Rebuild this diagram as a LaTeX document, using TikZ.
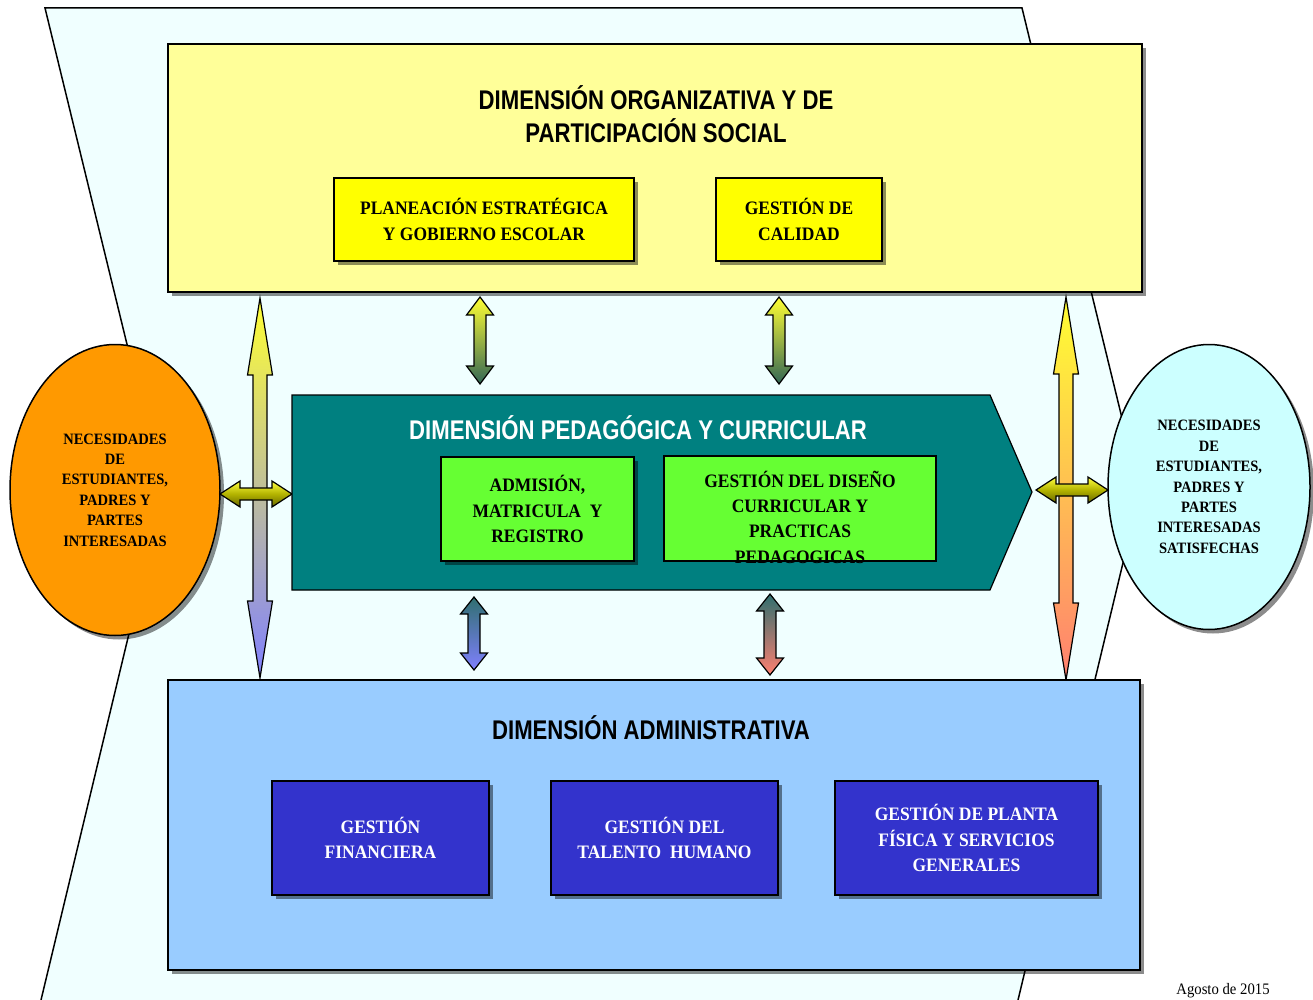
\documentclass[tikz,border=0pt]{standalone}
\usepackage{fontspec}
\setmainfont{Liberation Serif}
\newfontfamily\titlefont[FakeStretch=0.82]{Liberation Sans}
\newfontfamily\boxfont[FakeStretch=0.92]{Liberation Serif}
\usetikzlibrary{calc}
\usetikzlibrary{shadows}
\usetikzlibrary{shapes.geometric}
\definecolor{framefill}{HTML}{F0FFFF}
\definecolor{orgfill}{HTML}{FFFF99}
\definecolor{orgsub}{HTML}{FFFF00}
\definecolor{pedfill}{HTML}{008080}
\definecolor{pedsub}{HTML}{66FF33}
\definecolor{admfill}{HTML}{99CCFF}
\definecolor{admsub}{HTML}{3333CC}
\definecolor{needsin}{HTML}{FF9900}
\definecolor{needsout}{HTML}{CCFFFF}
\definecolor{arryellow}{HTML}{FFFF33}
\definecolor{arrviolet}{HTML}{8080FF}
\definecolor{arrsalmon}{HTML}{FF8070}
\definecolor{arrdark}{HTML}{336655}
\definecolor{arrteal}{HTML}{2F6F6F}
\tikzstyle{frameline}=[draw, line width=1.5pt, inner sep=0, outer sep=0]
\tikzstyle{dimension}=[frameline,
                       drop shadow={shadow xshift=4pt, shadow yshift=-4pt, fill=black, opacity=0.45}]
\tikzstyle{boxtext}=[align=center, font=\boxfont\bfseries\fontsize{19}{25.3}\selectfont]
\tikzstyle{process}=[dimension, boxtext]
\tikzstyle{needs}=[dimension, ellipse, align=center, font=\boxfont\bfseries\fontsize{15.8}{20.4}\selectfont]
\tikzstyle{dimtitle}=[align=center, inner sep=0, font=\titlefont\bfseries\fontsize{27}{33}\selectfont]
\tikzstyle{blockarrow}=[line width=1.2pt, line join=miter]
% #1 top tip, #2 bottom tip, #3 half shaft, #4 half head, #5 head length, #6 shading
\newcommand{\vblockarrow}[6]{%
  \draw[blockarrow, #6] (#1) -- ($(#1)+(#4,#5)$) -- ($(#1)+(#3,#5)$) -- ($(#2)+(#3,-#5)$)
    -- ($(#2)+(#4,-#5)$) -- (#2) -- ($(#2)+(-#4,-#5)$) -- ($(#2)+(-#3,-#5)$)
    -- ($(#1)+(-#3,#5)$) -- ($(#1)+(-#4,#5)$) -- cycle;}
% #1 left tip, #2 right tip, same order otherwise
\newcommand{\hblockarrow}[6]{%
  \draw[blockarrow, #6] (#1) -- ($(#1)+(#5,-#4)$) -- ($(#1)+(#5,-#3)$) -- ($(#2)+(-#5,-#3)$)
    -- ($(#2)+(-#5,-#4)$) -- (#2) -- ($(#2)+(-#5,#4)$) -- ($(#2)+(-#5,#3)$)
    -- ($(#1)+(#5,#3)$) -- ($(#1)+(#5,#4)$) -- cycle;}
\begin{document}
\begin{tikzpicture}[x=1pt, y=-1pt]
  \useasboundingbox (0,0) rectangle (1313,1000);
  % background chevron
  \fill[framefill] (45,8) -- (1022,8) -- (1140,492) -- (1018,1000) -- (41,1000) -- (163,492) -- cycle;
  \draw[line width=1.5pt] (41,1000) -- (163,492) -- (45,8) -- (1022,8) -- (1140,492) -- (1018,1000);

  % stakeholder needs
  \node[needs, fill=needsin, minimum width=210pt, minimum height=291pt] (nin) at (115,490)
    {NECESIDADES\\DE\\ESTUDIANTES,\\PADRES Y\\PARTES\\INTERESADAS};
  \node[needs, fill=needsout, minimum width=202pt, minimum height=285pt] (nout) at (1209,487)
    {NECESIDADES\\DE\\ESTUDIANTES,\\PADRES Y\\PARTES\\INTERESADAS\\SATISFECHAS};

  % long arrows org <-> adm
  \coordinate (lt) at (260,298);
  \coordinate (lb) at (260,678);
  \coordinate (rt) at (1066,297);
  \coordinate (rb) at (1066,680);
  \vblockarrow{lt}{lb}{7}{12.5}{77}{top color=arryellow, bottom color=arrviolet}
  \vblockarrow{rt}{rb}{7}{12.5}{77}{top color=arryellow, bottom color=arrsalmon}

  % needs <-> pedagogic dimension
  \coordinate (hl) at (nin.east |- 0,494);
  \coordinate (hlr) at (292,494);
  \coordinate (hr) at (1036,490);
  \coordinate (hrr) at (nout.west |- 0,490);
  \hblockarrow{hl}{hlr}{6}{13}{20}{top color=yellow!75!white, bottom color=olive!80!black}
  \hblockarrow{hr}{hrr}{6}{13}{20}{top color=yellow!75!white, bottom color=olive!80!black}

  % organizational dimension
  \node[dimension, fill=orgfill, minimum width=974pt, minimum height=248pt] (org) at (655,168) {};
  \node[dimtitle] (orgt) at (656,114) {DIMENSIÓN ORGANIZATIVA Y DE\\PARTICIPACIÓN SOCIAL};
  \node[process, fill=orgsub, minimum width=300pt, minimum height=83pt] (plan) at (484,219.5)
    {PLANEACIÓN ESTRATÉGICA\\Y GOBIERNO ESCOLAR};
  \node[process, fill=orgsub, minimum width=166pt, minimum height=83pt] (cal) at (799,219.5)
    {GESTIÓN DE\\CALIDAD};

  % pedagogic dimension
  \draw[line width=1.2pt, fill=pedfill] (292,395) -- (990,395) -- (1032,492) -- (990,590) -- (292,590) -- cycle;
  \node[dimtitle, text=white] (pedt) at (638,428) {DIMENSIÓN PEDAGÓGICA Y CURRICULAR};
  \node[process, fill=pedsub, minimum width=193pt, minimum height=104pt] (adm) at (537.5,509)
    {ADMISIÓN,\\MATRICULA~~Y\\REGISTRO};
  \node[frameline, fill=pedsub, minimum width=272pt, minimum height=105pt] (dis) at (800,508.5) {};
  \node[boxtext] (dist) at (800,517)
    {GESTIÓN DEL DISEÑO\\CURRICULAR Y\\PRACTICAS\\PEDAGOGICAS};

  % short arrows
  \coordinate (a1t) at (480,297);
  \coordinate (a1b) at (480,384);
  \coordinate (a2t) at (779,297);
  \coordinate (a2b) at (779,384);
  \coordinate (a3t) at (474,597);
  \coordinate (a3b) at (474,670);
  \coordinate (a4t) at (770,594);
  \coordinate (a4b) at (770,675);
  \vblockarrow{a1t}{a1b}{6}{13.5}{18}{top color=arryellow, bottom color=arrdark}
  \vblockarrow{a2t}{a2b}{6}{13.5}{18}{top color=arryellow, bottom color=arrdark}
  \vblockarrow{a3t}{a3b}{6}{13.5}{17}{top color=arrteal, bottom color=arrviolet}
  \vblockarrow{a4t}{a4b}{6}{13.5}{17}{top color=arrteal, bottom color=arrsalmon}

  % administrative dimension
  \node[dimension, fill=admfill, minimum width=972pt, minimum height=290pt] (admi) at (654,825) {};
  \node[dimtitle] (admit) at (651,728) {DIMENSIÓN ADMINISTRATIVA};
  \node[process, fill=admsub, text=white, minimum width=217pt, minimum height=114pt] (fin) at (380.5,838)
    {GESTIÓN\\FINANCIERA};
  \node[process, fill=admsub, text=white, minimum width=227pt, minimum height=114pt] (tal) at (664.5,838)
    {GESTIÓN DEL\\TALENTO~~HUMANO};
  \node[process, fill=admsub, text=white, minimum width=263pt, minimum height=114pt] (pla) at (966.5,838)
    {GESTIÓN DE PLANTA\\FÍSICA Y SERVICIOS\\GENERALES};

  \node[anchor=base, inner sep=0, font=\boxfont\fontsize{16}{18}\selectfont] (date) at (1223,994) {Agosto de 2015};
\end{tikzpicture}
\end{document}
